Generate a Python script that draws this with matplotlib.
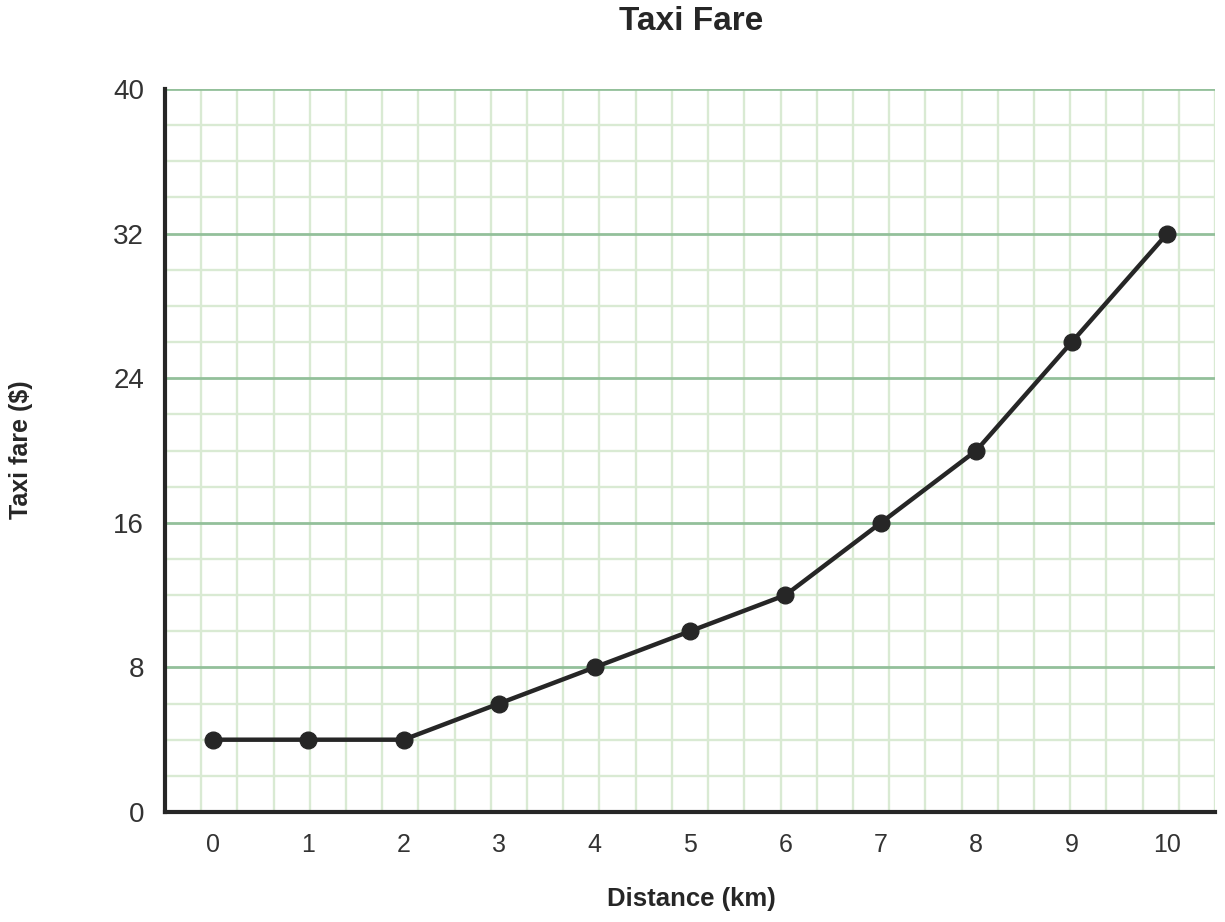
import numpy as np
import matplotlib
matplotlib.use('Agg')
import matplotlib.pyplot as plt

# data
distance = [0, 1, 2, 3, 4, 5, 6, 7, 8, 9, 10]
fare = [4, 4, 4, 6, 8, 10, 12, 16, 20, 26, 32]
y_ticks = [0, 8, 16, 24, 32, 40]

plt.rcParams['font.family'] = ['Liberation Sans', 'DejaVu Sans']

fig = plt.figure(figsize=(12.25, 9.22), dpi=100)
ax = fig.add_axes([165/1225, 1 - 812/922, 1050/1225, (812 - 89)/922])

ax.set_xlim(-0.5, 10.5)
ax.set_ylim(0, 40)

# square graph-paper grid behind everything
for gx in np.linspace(-0.5, 10.5, 30)[1:]:
    ax.axvline(gx, color='#d9ead3', lw=1.7, zorder=0)
for gy in range(2, 41, 2):
    if gy % 8 == 0:
        ax.axhline(gy, color='#93c09a', lw=2, zorder=1)
    else:
        ax.axhline(gy, color='#d9ead3', lw=1.7, zorder=0)

ax.plot(distance, fare, color='#262626', lw=3.2, marker='o', markersize=12, zorder=3,
        clip_on=False)

ax.set_xticks(distance)
ax.set_yticks(y_ticks)
ax.tick_params(axis='x', length=0, pad=15, labelsize=18, labelcolor='#333333')
ax.tick_params(axis='y', length=0, pad=15, labelsize=20, labelcolor='#333333')

for s in ['top', 'right']:
    ax.spines[s].set_visible(False)
for s in ['left', 'bottom']:
    ax.spines[s].set_color('#262626')
    ax.spines[s].set_linewidth(3)
    ax.spines[s].set_zorder(4)

fig.text(691/1225, 1 - 21/922, 'Taxi Fare', ha='center', va='center',
         fontsize=24, fontweight='bold', color='#262626')
fig.text(691/1225, 1 - 899/922, 'Distance (km)', ha='center', va='center',
         fontsize=18.5, fontweight='bold', color='#262626')
fig.text(21/1225, 1 - 450/922, 'Taxi fare ($)', ha='center', va='center',
         rotation=90, fontsize=18, fontweight='bold', color='#262626')

fig.savefig('out.png', dpi=100)
